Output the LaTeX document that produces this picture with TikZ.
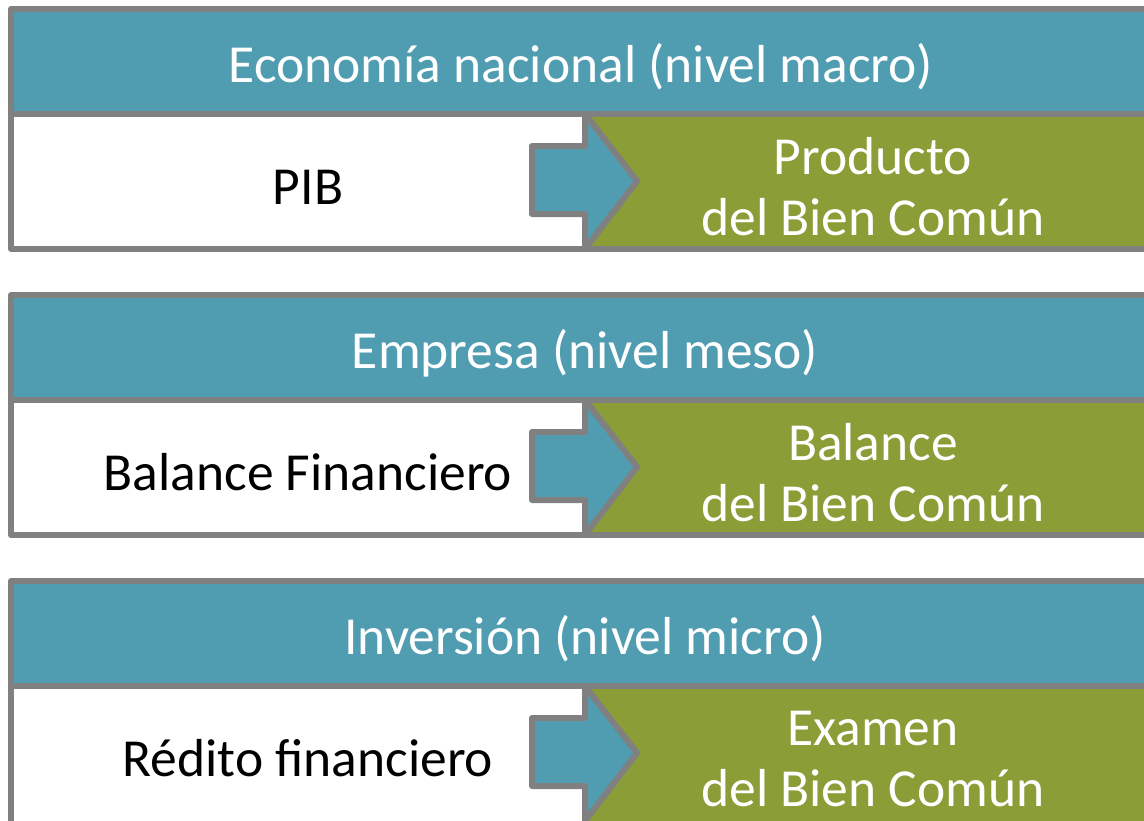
\documentclass[tikz,border=0pt]{standalone}
\usepackage{fontspec}
\setmainfont{Carlito}
\definecolor{headteal}{RGB}{80,157,178}
\definecolor{bcgreen}{RGB}{138,157,54}
\definecolor{framegray}{RGB}{128,128,128}
\tikzset{
  frame/.style={draw=framegray, line width=6pt, line join=round},
  headbox/.style={frame, fill=headteal},
  leftbox/.style={frame, fill=white},
  rightbox/.style={frame, fill=bcgreen},
  bigarrow/.style={frame, fill=headteal},
  headtext/.style={text=white, font=\fontsize{53.5}{61}\selectfont, anchor=base, inner sep=0pt},
  lefttext/.style={text=black, font=\fontsize{53.5}{61}\selectfont, anchor=base, inner sep=0pt},
  righttext/.style={text=white, font=\fontsize{53.5}{61}\selectfont, align=center, inner sep=0pt},
}
\begin{document}
\begin{tikzpicture}[x=1pt, y=-1pt]
    \useasboundingbox (0,0) rectangle (1144,820);
    \clip (0,0) rectangle (1144,820);
    % Macro level
    \draw[headbox] (11,9) rectangle (1170,114);
    \draw[leftbox] (11,114) rectangle (585,249);
    \draw[rightbox] (585,114) rectangle (1170,249);
    \draw[bigarrow] (532,146) -- (585,146) -- (585,114) -- (637,181) -- (585,249) -- (585,214) -- (532,214) -- cycle;
    \node[headtext] (macro) at (581,82) {Economía nacional (nivel macro)};
    \node[lefttext] (pib) at (308,204) {PIB};
    \node[righttext] (pbc) at (873,187) {Producto\\del Bien Común};
    % Meso level
    \draw[headbox] (11,295) rectangle (1170,400);
    \draw[leftbox] (11,400) rectangle (585,535);
    \draw[rightbox] (585,400) rectangle (1170,535);
    \draw[bigarrow] (532,432) -- (585,432) -- (585,400) -- (637,467) -- (585,535) -- (585,500) -- (532,500) -- cycle;
    \node[headtext] (meso) at (585,368) {Empresa (nivel meso)};
    \node[lefttext] (balfin) at (308,490) {Balance Financiero};
    \node[righttext] (bbc) at (873,473) {Balance\\del Bien Común};
    % Micro level
    \draw[headbox] (11,581) rectangle (1170,686);
    \draw[leftbox] (11,686) rectangle (585,826);
    \draw[rightbox] (585,686) rectangle (1170,826);
    \draw[bigarrow] (532,718) -- (585,718) -- (585,686) -- (637,753) -- (585,821) -- (585,786) -- (532,786) -- cycle;
    \node[headtext] (micro) at (585,654) {Inversión (nivel micro)};
    \node[lefttext] (redito) at (308,776) {Rédito financiero};
    \node[righttext] (ebc) at (873,759) {Examen\\del Bien Común};
\end{tikzpicture}
\end{document}
